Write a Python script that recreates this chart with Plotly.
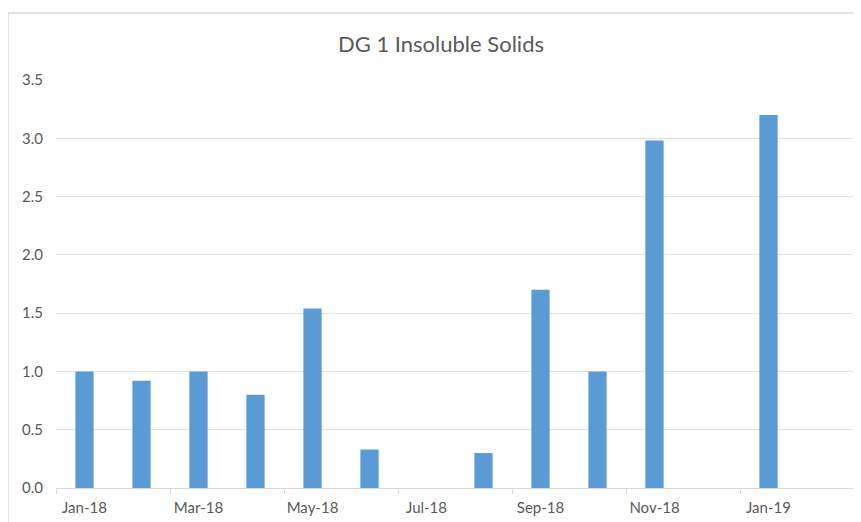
import plotly.graph_objects as go

months = ["Jan-18", "Feb-18", "Mar-18", "Apr-18", "May-18", "Jun-18", "Jul-18",
          "Aug-18", "Sep-18", "Oct-18", "Nov-18", "Dec-18", "Jan-19", "Feb-19"]
solids = [1.0, 0.92, 1.0, 0.8, 1.54, 0.33, None, 0.3, 1.7, 1.0, 2.98, None, 3.2, None]
y_ticks = [0.0, 0.5, 1.0, 1.5, 2.0, 2.5, 3.0, 3.5]

idx = list(range(len(months)))
label_idx = idx[::2]
grey = "#595959"

# page body has an 8px margin, so the figure starts at (8, 8)
fig = go.Figure()
fig.add_trace(go.Bar(x=idx, y=solids, marker_color="#5B9BD5",
                     marker_line_width=0, width=0.32))

fig.update_layout(
    width=853, height=514,
    margin=dict(l=48, r=7, t=72, b=34),
    paper_bgcolor="white", plot_bgcolor="white",
    font=dict(family="Lato", color=grey, size=15),
    showlegend=False,
    title=dict(text="DG 1 Insoluble Solids", x=(441 - 56) / 798, xref="paper",
               xanchor="center", y=1 - 36 / 514, yanchor="middle",
               font=dict(size=22, color=grey)),
)
fig.update_xaxes(range=[-0.5, len(months) - 0.5], tickvals=label_idx,
                 ticktext=[months[i] for i in label_idx], ticks="",
                 showgrid=False, showline=True, linecolor="#d9d9d9", linewidth=1,
                 zeroline=False, tickfont=dict(size=15, color=grey),
                 ticklabelstandoff=6,
                 minor=dict(tickvals=[i - 0.5 for i in label_idx] + [len(months) - 0.5],
                            ticks="outside", ticklen=5, tickcolor="#d9d9d9",
                            showgrid=False))
fig.update_yaxes(range=[0, 3.5], tickvals=y_ticks, tickformat=".1f",
                 showgrid=True, gridcolor="#e3e3e3", gridwidth=1,
                 zeroline=False, showline=False, ticks="",
                 tickfont=dict(size=15, color=grey), ticklabelstandoff=12)

# chart frame
fig.add_shape(type="rect", xref="paper", yref="paper",
              x0=(8 - 56) / 798, x1=(875 - 56) / 798,
              y0=(488 - 540) / 408, y1=(488 - 13) / 408,
              line=dict(color="#d9d9d9", width=1.5), layer="below")

fig.write_html("out.html")
